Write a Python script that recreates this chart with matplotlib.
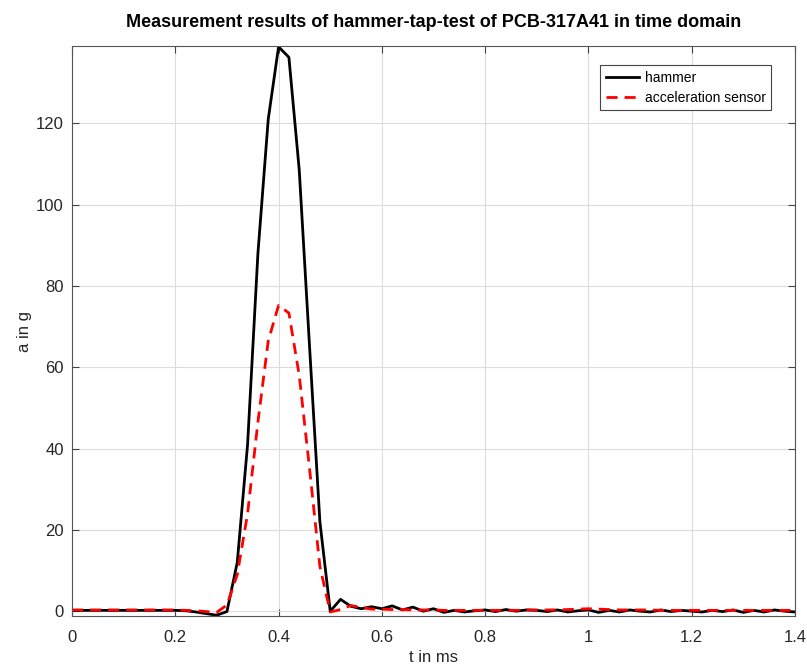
import numpy as np
import matplotlib.pyplot as plt

plt.rcParams['font.family'] = ['Liberation Sans', 'DejaVu Sans']

# Zeitachse in ms (Abtastung 0.02 ms)
t = np.round(np.arange(0, 1.4001, 0.02), 2)

# Hammer-Signal in g
hammer = [0.2, 0.2, 0.2, 0.2, 0.2, 0.2, 0.2, 0.2, 0.2, 0.2,
          0.2, 0.1, -0.2, -0.6, -1.0, -0.1, 12.0, 41.0, 88.0, 121.0,
          138.8, 136.2, 108.5, 65.0, 22.0, 0.0, 2.9, 1.2, 0.6, 1.1,
          0.6, 1.3, 0.3, 1.0, 0.0, 0.6, -0.3, 0.2, -0.2, 0.1,
          0.3, -0.1, 0.4, 0.0, 0.3, 0.2, -0.1, 0.3, -0.2, 0.1,
          0.3, -0.3, 0.2, -0.2, 0.3, 0.0, -0.2, 0.3, -0.1, 0.2,
          0.0, -0.2, 0.2, -0.1, 0.3, -0.3, 0.2, -0.2, 0.3, 0.0,
          -0.2]

# Beschleunigungssensor in g
accel = [0.3, 0.3, 0.3, 0.3, 0.3, 0.3, 0.3, 0.3, 0.3, 0.3,
         0.3, 0.2, 0.1, -0.1, -0.3, 1.5, 9.0, 24.0, 46.5, 66.5,
         75.2, 73.3, 58.0, 35.0, 11.0, -0.2, 0.4, 1.4, 0.9, 0.5,
         0.5, 0.4, 0.4, 0.3, 0.3, 0.3, 0.2, 0.2, 0.2, 0.2,
         0.2, 0.2, 0.2, 0.2, 0.3, 0.3, 0.3, 0.3, 0.4, 0.5,
         0.6, 0.5, 0.4, 0.3, 0.3, 0.3, 0.3, 0.2, 0.2, 0.2,
         0.2, 0.2, 0.2, 0.2, 0.2, 0.2, 0.2, 0.2, 0.2, 0.2,
         0.2]

fig = plt.figure(figsize=(8.07, 6.66), dpi=100)
ax = fig.add_axes([0.0892, 0.075, 0.896, 0.856])

ax.plot(t, hammer, color='black', linewidth=2, label='hammer')
ax.plot(t, accel, color='red', linewidth=2, linestyle='--', dashes=(4, 2.5),
        label='acceleration sensor')

ax.set_xlim(0, 1.4)
ax.set_ylim(-1.2, 139)
ax.set_xticks([0, 0.2, 0.4, 0.6, 0.8, 1, 1.2, 1.4])
ax.set_xticklabels(['0', '0.2', '0.4', '0.6', '0.8', '1', '1.2', '1.4'])
ax.set_yticks([0, 20, 40, 60, 80, 100, 120])

# MATLAB-artige Achsen
ax.grid(True, color='#dcdcdc', linewidth=0.8)
ax.set_axisbelow(True)
ax.tick_params(direction='in', top=True, right=True, labelsize=12,
               color='#444444', labelcolor='#262626', length=5)
ax.tick_params(axis='x', pad=10)
ax.tick_params(axis='y', pad=6)
for s in ax.spines.values():
    s.set_color('#555555')
    s.set_linewidth(0.8)

ax.set_title('Measurement results of hammer-tap-test of PCB-317A41 in time domain',
             fontsize=13, fontweight='bold', pad=14)
ax.set_xlabel('t in ms', fontsize=12, color='#262626', labelpad=4)
ax.set_ylabel('a in g', fontsize=12, color='#262626', labelpad=3)

leg = ax.legend(loc='upper right', bbox_to_anchor=(0.977, 0.978), fontsize=10,
                fancybox=False, framealpha=1, edgecolor='#444444',
                handlelength=2.4, handletextpad=0.4, borderpad=0.4,
                labelspacing=0.4)
leg.get_frame().set_linewidth(0.8)

fig.savefig('out.png', dpi=100)
